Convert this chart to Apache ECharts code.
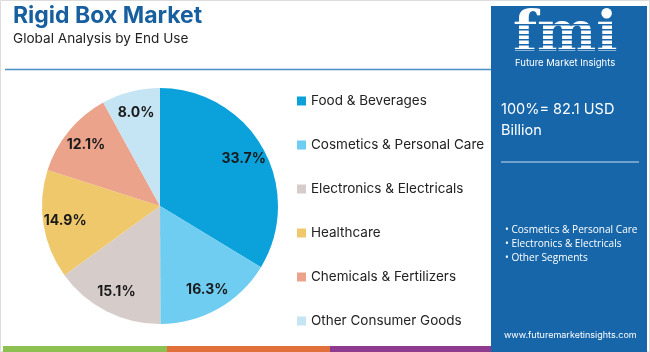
<!DOCTYPE html>
<html>
<head>
<meta charset="utf-8">
<script src="https://cdn.jsdelivr.net/npm/echarts@6/dist/echarts.min.js"></script>
<style>
  html, body { margin: 0; padding: 0; background: #fff; }
  #chart { width: 650px; height: 352px; }
</style>
</head>
<body>
<div id="chart"></div>
<script>
// data
const categories = ['Food & Beverages', 'Cosmetics & Personal Care', 'Electronics & Electricals', 'Healthcare', 'Chemicals & Fertilizers', 'Other Consumer Goods']
const shares = [33.7, 16.3, 15.1, 14.9, 12.1, 8.0]
const colors = ['#0ba2dc', '#70cdf2', '#d6cdcb', '#efc86b', '#eca38b', '#c5e4f4']
const keySegments = ['Cosmetics & Personal Care', 'Electronics & Electricals', 'Other Segments']
const totalText = ['100%= 82.1 USD', 'Billion']

const font = 'Inter, "Open Sans", sans-serif'
const panelBlue = '#1766a9'

const pieData = categories.map((c, i) => ({ name: c, value: shares[i] }))

const chart = echarts.init(document.getElementById('chart'))

// stripes over the logo letters
const stripes = []
for (let k = 0; k < 7; k++) {
  stripes.push({
    type: 'rect', z: 12,
    shape: { x: 512, y: 24 + k * 5, width: 118, height: 1.4 },
    style: { fill: panelBlue }
  })
}

chart.setOption({
  animation: false,
  color: colors,
  legend: {
    orient: 'vertical',
    left: 292,
    top: 89,
    itemWidth: 9,
    itemHeight: 9,
    itemGap: 30,
    icon: 'rect',
    selectedMode: false,
    textStyle: { fontFamily: font, fontSize: 13.5, color: '#222' },
    data: categories
  },
  series: [
    {
      type: 'pie',
      center: [160, 206],
      radius: [0, 118],
      startAngle: 90,
      label: { show: false },
      labelLine: { show: false },
      emphasis: { disabled: true },
      data: pieData
    },
    {
      // label ring, so the numbers sit near the outer edge
      type: 'pie',
      center: [160, 206],
      radius: [68, 118],
      startAngle: 90,
      silent: true,
      itemStyle: { color: 'rgba(0,0,0,0)' },
      label: {
        show: true,
        position: 'inside',
        formatter: p => p.value.toFixed(1) + '%',
        fontFamily: font,
        fontWeight: 'bold',
        fontSize: 14,
        color: '#1a1a1a'
      },
      labelLine: { show: false },
      emphasis: { disabled: true },
      data: pieData
    }
  ],
  graphic: [
    { type: 'rect', z: 0, shape: { x: 0.5, y: 0.5, width: 649, height: 351 }, style: { fill: 'none', stroke: '#dcdcdc', lineWidth: 1 } },
    { type: 'text', left: 13, top: 5, style: { text: 'Rigid Box Market', font: 'bold 23px ' + font, fill: '#175f9e' } },
    { type: 'text', left: 13, top: 32, style: { text: 'Global Analysis by End Use', font: '13.6px ' + font, fill: '#222' } },
    { type: 'line', shape: { x1: 5, y1: 69.5, x2: 492, y2: 69.5 }, style: { stroke: '#4a8fc4', lineWidth: 1.5 } },
    // bottom colour strip
    { type: 'rect', shape: { x: 3, y: 346, width: 164, height: 6 }, style: { fill: '#8cc152' } },
    { type: 'rect', shape: { x: 167, y: 346, width: 163, height: 6 }, style: { fill: '#e2703a' } },
    { type: 'rect', shape: { x: 330, y: 346, width: 163, height: 6 }, style: { fill: '#8e3a8f' } },
    // right panel
    { type: 'rect', z: 10, shape: { x: 491, y: 6, width: 156, height: 346 }, style: { fill: panelBlue } },
    { type: 'text', z: 11, left: 513, top: 8, style: { text: 'fmi', font: 'bold 56px "DejaVu Serif", serif', fill: '#fff' } },
    ...stripes,
    { type: 'text', z: 11, left: 515, top: 58, style: { text: 'Future Market Insights', font: '9.5px ' + font, fill: '#fff' } },
    { type: 'text', z: 11, left: 501, top: 99, style: { text: totalText.join('\n'), font: '14.5px ' + font, fill: '#fff', lineHeight: 21 } },
    { type: 'line', z: 11, shape: { x1: 501, y1: 162, x2: 639, y2: 162 }, style: { stroke: '#c8dcef', lineWidth: 1 } },
    { type: 'text', z: 11, left: 505, top: 223, style: { text: keySegments.map(s => '\u2022 ' + s).join('\n'), font: '10.1px "Open Sans", sans-serif', fill: '#fff', lineHeight: 14 } },
    { type: 'text', z: 11, left: 504, top: 331, style: { text: 'www.futuremarketinsights.com', font: '9px ' + font, fill: '#fff' } }
  ]
})
</script>
</body>
</html>
